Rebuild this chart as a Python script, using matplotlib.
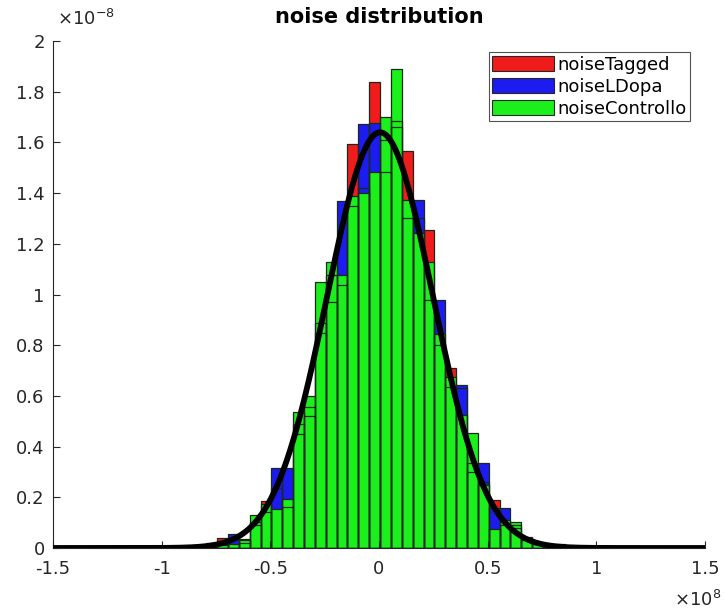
import numpy as np
import matplotlib
matplotlib.use('Agg')
import matplotlib.pyplot as plt
from matplotlib.patches import Patch

plt.rcParams['font.family'] = ['DejaVu Sans']

# Histogram bins (x in units of 1e8), 33 bins of width 0.05
bin_edges = np.linspace(-0.795, 0.855, 34)

# Bar heights (pdf, in units of 1e-8)
noise_tagged = [0.010, 0.040, 0.030, 0.030, 0.104, 0.187, 0.237, 0.160, 0.490, 0.557,
                0.886, 1.077, 1.037, 1.594, 1.420, 1.837, 1.610, 1.660, 1.567, 1.300,
                1.254, 0.800, 0.709, 0.630, 0.337, 0.260, 0.190, 0.090, 0.080, 0.040,
                0.020, 0.010, 0.005]
noise_ldopa = [0.020, 0.025, 0.054, 0.020, 0.090, 0.143, 0.315, 0.315, 0.450, 0.520,
               0.847, 0.970, 1.369, 1.350, 1.673, 1.675, 1.484, 1.685, 1.300, 1.373,
               0.980, 0.980, 0.636, 0.643, 0.300, 0.337, 0.157, 0.157, 0.090, 0.030,
               0.015, 0.010, 0.005]
noise_controllo = [0.005, 0.010, 0.015, 0.035, 0.130, 0.175, 0.155, 0.193, 0.535, 0.600,
                   1.050, 1.130, 1.077, 1.390, 1.400, 1.484, 1.700, 1.890, 1.373, 1.241,
                   1.130, 0.845, 0.676, 0.525, 0.455, 0.250, 0.075, 0.110, 0.104, 0.045,
                   0.020, 0.015, 0.015]

series_names = ['noiseTagged', 'noiseLDopa', 'noiseControllo']
series_colors = ['#f01c1c', '#1c1cf0', '#1cf01c']

# fitted normal pdf parameters (x in 1e8 units)
fit_mu = 0.005
fit_sigma = 0.2433

x_ticks = [-1.5, -1, -0.5, 0, 0.5, 1, 1.5]
y_ticks = [0, 0.2, 0.4, 0.6, 0.8, 1, 1.2, 1.4, 1.6, 1.8, 2]

fig = plt.figure(figsize=(7.25, 6.16), dpi=100)
ax = fig.add_axes([53 / 725, 68 / 616, 652 / 725, 507 / 616])

widths = np.diff(bin_edges)
lefts = bin_edges[:-1]
all_series = [noise_tagged, noise_ldopa, noise_controllo]

# faces first, then every outline on top (like the original rendering)
for vals, col in zip(all_series, series_colors):
    ax.bar(lefts, vals, width=widths, align='edge', color=col, edgecolor='none', zorder=1)
for vals in all_series:
    ax.bar(lefts, vals, width=widths, align='edge', fill=False,
           edgecolor='#1a2a1a', linewidth=0.9, zorder=2)

xs = np.linspace(-1.5, 1.5, 600)
pdf = 1.0 / (fit_sigma * np.sqrt(2 * np.pi)) * np.exp(-0.5 * ((xs - fit_mu) / fit_sigma) ** 2)
ax.plot(xs, pdf, color='black', linewidth=4.2, zorder=3, solid_capstyle='butt')

ax.set_xlim(-1.5, 1.5)
ax.set_ylim(0, 2)
ax.set_xticks(x_ticks)
ax.set_xticklabels(['-1.5', '-1', '-0.5', '0', '0.5', '1', '1.5'])
ax.set_yticks(y_ticks)
ax.set_yticklabels(['0', '0.2', '0.4', '0.6', '0.8', '1', '1.2', '1.4', '1.6', '1.8', '2'])
ax.tick_params(direction='in', length=5, width=0.8, labelsize=13, colors='#262626')
ax.tick_params(axis='x', pad=9)
ax.tick_params(axis='y', pad=6)
for s in ['top', 'right']:
    ax.spines[s].set_visible(False)
for s in ['left', 'bottom']:
    ax.spines[s].set_color('#262626')
    ax.spines[s].set_linewidth(0.8)

ax.set_title('noise distribution', fontsize=15, fontweight='bold', pad=13)

fig.text(57 / 725, 1 - 25 / 616, r'$\times$10$^{\mathregular{-8}}$', fontsize=13,
         color='#262626', ha='left', va='baseline')
fig.text(721 / 725, 1 - 606 / 616, r'$\times$10$^{\mathregular{8}}$', fontsize=13,
         color='#262626', ha='right', va='baseline')

handles = [Patch(facecolor=c, edgecolor='#262626', linewidth=0.8) for c in series_colors]
leg = ax.legend(handles, series_names, loc='upper right', bbox_to_anchor=(690 / 725, 1 - 52 / 616),
                bbox_transform=fig.transFigure, fontsize=13, frameon=True, fancybox=False,
                handlelength=3.4, handleheight=0.9, labelspacing=0.22, handletextpad=0.2,
                borderpad=0.2, borderaxespad=0)
leg.get_frame().set_edgecolor('#262626')
leg.get_frame().set_linewidth(0.8)

fig.savefig('out.png', dpi=100)
